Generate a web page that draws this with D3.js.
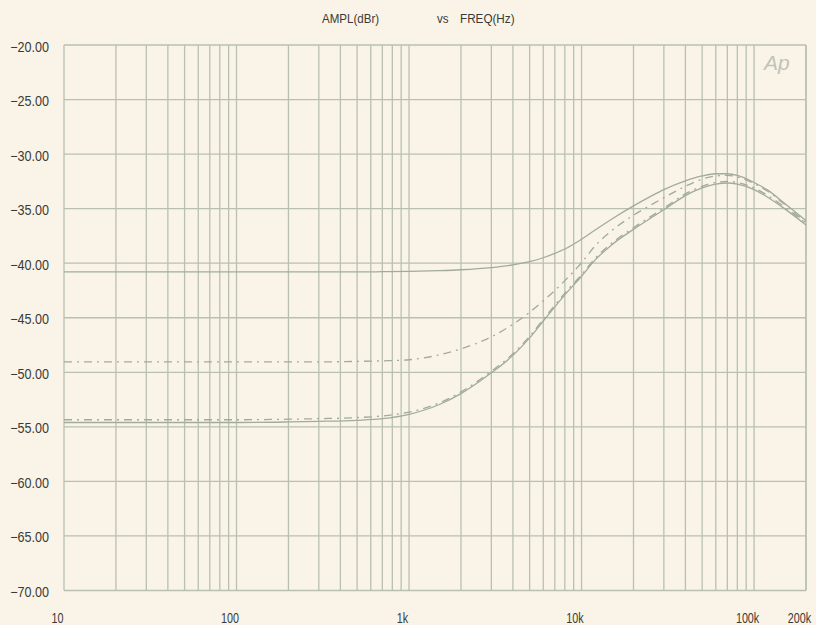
<!DOCTYPE html>
<html><head><meta charset="utf-8">
<script src="https://cdn.jsdelivr.net/npm/d3@7"></script>
<style>body{margin:0;background:#f9f4e8;} svg{display:block}</style>
</head><body><svg id="c" width="816" height="625"></svg>
<script>
// ---- data ----
const freqs = [10,20,50,100,200,300,500,700,1000,1500,2000,3000,4000,5000,6000,7000,8000,10000,12000,15000,20000,25000,30000,40000,50000,60000,70000,80000,100000,120000,150000,200000];
const upperSolid = [-40.8,-40.8,-40.8,-40.8,-40.8,-40.8,-40.8,-40.78,-40.75,-40.68,-40.6,-40.4,-40.15,-39.85,-39.5,-39.1,-38.7,-37.8,-36.95,-35.95,-34.75,-33.9,-33.25,-32.45,-32.0,-31.8,-31.8,-31.95,-32.6,-33.3,-34.5,-36.1];
const midDashDot = [-49.05,-49.05,-49.05,-49.05,-49.05,-49.05,-49.0,-48.95,-48.85,-48.4,-47.85,-46.75,-45.6,-44.5,-43.45,-42.5,-41.6,-39.95,-38.4,-37.0,-35.6,-34.7,-34.0,-32.95,-32.3,-32.0,-31.95,-32.1,-32.7,-33.4,-34.6,-36.3];
const lowerSolid = [-54.6,-54.6,-54.6,-54.6,-54.55,-54.5,-54.4,-54.25,-53.85,-52.95,-51.95,-50.05,-48.45,-46.85,-45.3,-44.0,-42.9,-41.2,-39.7,-38.3,-36.9,-35.9,-35.1,-33.8,-33.1,-32.75,-32.65,-32.75,-33.25,-33.95,-35.0,-36.5];
const lowerDashDot = [-54.35,-54.35,-54.35,-54.35,-54.3,-54.25,-54.15,-54.0,-53.65,-52.8,-51.8,-49.9,-48.3,-46.7,-45.15,-43.85,-42.75,-41.05,-39.55,-38.15,-36.75,-35.75,-34.95,-33.65,-32.95,-32.6,-32.5,-32.6,-33.1,-33.8,-34.85,-36.35];
const yTicks = [-20,-25,-30,-35,-40,-45,-50,-55,-60,-65,-70];
const xTickLabels = [[10,"10"],[100,"100"],[1000,"1k"],[10000,"10k"],[100000,"100k"],[200000,"200k"]];

// ---- layout ----
const svg = d3.select("#c");
const L = 64, R = 806, T = 45, B = 590.5;
const x = d3.scaleLog().domain([10,200000]).range([L,R]);
const y = d3.scaleLinear().domain([-70,-20]).range([B,T]);
const gridCol = "#b9c0b0", curveCol = "#a2ab9a", textCol = "#3a3a36";
const font = "'Liberation Sans',Arial,sans-serif";

svg.append("rect").attr("width",816).attr("height",625).attr("fill","#f9f4e7");

// vertical grid
const vgrid = [];
for (let d = 10; d <= 100000; d *= 10) for (let m = 1; m <= 9; m++) { const v = d*m; if (v <= 200000) vgrid.push(v); }
vgrid.push(200000);
svg.append("g").selectAll("line").data(vgrid).join("line")
  .attr("x1",d=>x(d)).attr("x2",d=>x(d)).attr("y1",T).attr("y2",B)
  .attr("stroke",gridCol).attr("stroke-width",1.3);
// horizontal grid
svg.append("g").selectAll("line").data(yTicks).join("line")
  .attr("x1",L).attr("x2",R).attr("y1",d=>y(d)).attr("y2",d=>y(d))
  .attr("stroke",gridCol).attr("stroke-width",1.3);

// helper: condensed text
function ctext(g, px, py, str, size, sx, anchor) {
  g.append("text").attr("transform",`translate(${px},${py}) scale(${sx},1)`)
    .attr("text-anchor",anchor||"start").attr("font-family",font)
    .attr("font-size",size).attr("fill",textCol).text(str);
}

// y labels
const gy = svg.append("g");
yTicks.forEach(v => ctext(gy, 49, y(v)+6.5, d3.format(".2f")(v), 14, 0.9, "end"));
// x labels
const gx = svg.append("g");
xTickLabels.forEach(([v,s]) => ctext(gx, x(v)-6.5, 623, s, 14, 0.77, "middle"));

// title
const gt = svg.append("g");
ctext(gt, 322, 23, "AMPL(dBr)", 13, 0.89);
ctext(gt, 437, 23, "vs", 13, 0.89);
ctext(gt, 460, 23, "FREQ(Hz)", 13, 0.9);

// Ap logo
svg.append("text").attr("x",764).attr("y",70).attr("font-family","'Liberation Sans',sans-serif")
  .attr("font-style","italic").attr("font-size",21)
  .attr("fill","#c2c2b9").text("Ap");

// curves
const line = d3.line().x(d=>x(d[0])).y(d=>y(d[1])).curve(d3.curveMonotoneX);
const series = [
  {vals: upperSolid, dash: null},
  {vals: midDashDot, dash: "8,5,2,5"},
  {vals: lowerSolid, dash: null},
  {vals: lowerDashDot, dash: "8,5,2,5"}
];
svg.append("g").selectAll("path").data(series).join("path")
  .attr("d",s=>line(freqs.map((f,i)=>[f,s.vals[i]])))
  .attr("fill","none").attr("stroke",curveCol).attr("stroke-width",1.3)
  .attr("stroke-dasharray",s=>s.dash);
</script></body></html>
